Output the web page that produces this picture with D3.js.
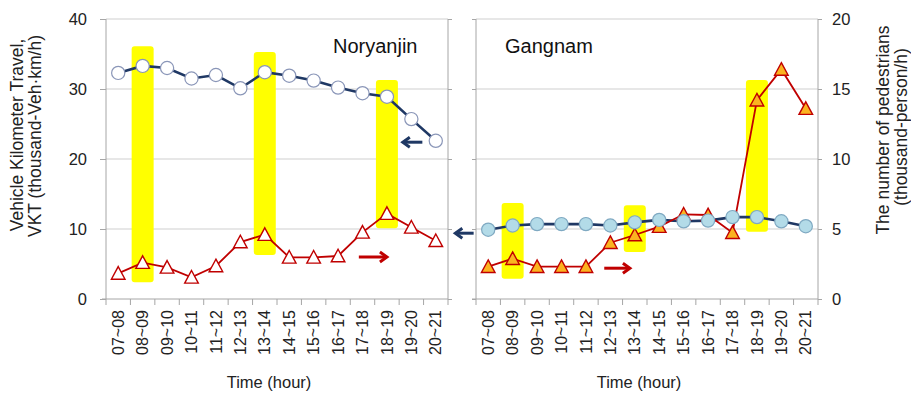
<!DOCTYPE html>
<html>
<head>
<meta charset="utf-8">
<script src="https://cdn.jsdelivr.net/npm/d3@7/dist/d3.min.js"></script>
<style>
  html, body { margin: 0; padding: 0; background: #ffffff; }
  svg { display: block; font-family: "Liberation Sans", Arial, sans-serif; }
</style>
</head>
<body>
<svg id="chart" width="911" height="393"></svg>
<script>
// Hourly periods shared by both districts
const categories = ["07~08", "08~09", "09~10", "10~11", "11~12", "12~13", "13~14",
                    "14~15", "15~16", "16~17", "17~18", "18~19", "19~20", "20~21"];

// Noryanjin: vehicle kilometers travelled (thousand-Veh·km/h) and pedestrians (thousand-person/h)
const noryanjinVKT = [32.3, 33.3, 33.0, 31.5, 32.0, 30.1, 32.4, 31.9, 31.2, 30.2, 29.4, 28.9, 25.7, 22.6];
const noryanjinPed = [1.83, 2.6, 2.26, 1.55, 2.36, 4.07, 4.6, 2.98, 2.98, 3.07, 4.76, 6.1, 5.12, 4.16];

// Gangnam: vehicle kilometers travelled and pedestrians
const gangnamVKT = [9.9, 10.5, 10.7, 10.7, 10.7, 10.5, 10.95, 11.3, 11.1, 11.2, 11.7, 11.7, 11.1, 10.4];
const gangnamPed = [2.31, 2.88, 2.31, 2.31, 2.31, 4.02, 4.57, 5.17, 6.05, 6.0, 4.74, 14.2, 16.4, 13.6];

// Highlighted peak periods (extent given in VKT units)
const noryanjinPeaks = [
  { cat: "08~09", lo: 2.4, hi: 36.1 },
  { cat: "13~14", lo: 6.3, hi: 35.3 },
  { cat: "18~19", lo: 10.1, hi: 31.3 }
];
const gangnamPeaks = [
  { cat: "08~09", lo: 2.9, hi: 13.7 },
  { cat: "13~14", lo: 6.7, hi: 13.4 },
  { cat: "18~19", lo: 9.6, hi: 31.3 }
];

// Axis ticks
const vktTicks = [0, 10, 20, 30, 40];
const pedTicks = [0, 5, 10, 15, 20];

const svg = d3.select("#chart");
const plotTop = 19, plotBottom = 299;

const yVKT = d3.scaleLinear().domain([0, 40]).range([plotBottom, plotTop]);
const yPed = d3.scaleLinear().domain([0, 20]).range([plotBottom, plotTop]);

const navy = "#1f3864";
const red = "#c00000";
const frame = "#a6a6a6";
const grid = "#cfcfcf";

function xAt(x, idx) { return x.range()[0] + idx * x.step(); }

// arrow with its head at xHead, pointing away from xTail
function arrow(g, xHead, xTail, y, color) {
  const dir = xTail > xHead ? 1 : -1;
  g.append("line")
    .attr("x1", xHead + dir).attr("x2", xTail).attr("y1", y).attr("y2", y)
    .attr("stroke", color).attr("stroke-width", 3);
  g.append("path")
    .attr("d", `M${xHead + 7 * dir},${y - 5} L${xHead},${y} L${xHead + 7 * dir},${y + 5}`)
    .attr("fill", "none").attr("stroke", color).attr("stroke-width", 3)
    .attr("stroke-linejoin", "miter");
}

function trianglePath(cx, cy) {
  return `M${cx},${cy - 6.8} L${cx + 6.8},${cy + 5.8} L${cx - 6.8},${cy + 5.8} Z`;
}

function panel(opts) {
  const x = d3.scaleBand().domain(categories).range([opts.x0, opts.x1]).padding(0);
  const g = svg.append("g");

  // gridlines
  g.selectAll("line.grid").data(vktTicks.slice(1)).join("line")
    .attr("class", "grid")
    .attr("x1", opts.x0).attr("x2", opts.x1)
    .attr("y1", d => yVKT(d)).attr("y2", d => yVKT(d))
    .attr("stroke", grid).attr("stroke-width", 1);

  // peak highlights
  g.selectAll("rect.peak").data(opts.peaks).join("rect")
    .attr("class", "peak")
    .attr("x", d => x(d.cat) + x.bandwidth() * 0.05)
    .attr("width", x.bandwidth() * 0.9)
    .attr("y", d => yVKT(d.hi))
    .attr("height", d => yVKT(d.lo) - yVKT(d.hi))
    .attr("rx", 3)
    .attr("fill", "#ffff00");

  // side axes (frame lines with outward ticks)
  const leftAxis = d3.axisLeft(yVKT).tickValues(vktTicks).tickSize(6).tickPadding(13)
    .tickFormat(opts.leftLabels ? d3.format("d") : () => "");
  const rightAxis = d3.axisRight(yPed).tickValues(pedTicks).tickSize(4).tickPadding(10)
    .tickFormat(opts.rightLabels ? d3.format("d") : () => "");

  const la = g.append("g").attr("transform", `translate(${opts.x0},0)`).call(leftAxis);
  const ra = g.append("g").attr("transform", `translate(${opts.x1},0)`).call(rightAxis);
  [la, ra].forEach(a => {
    a.select(".domain").attr("stroke", frame).attr("d", `M0,${plotBottom}V${plotTop}`);
    a.selectAll(".tick line").attr("stroke", frame);
    a.selectAll(".tick text").attr("font-size", 16.5).attr("fill", "#222");
  });
  if (!opts.leftLabels) la.selectAll(".tick line").attr("x2", -4);

  // bottom axis
  const xa = g.append("g").attr("transform", `translate(0,${plotBottom})`)
    .call(d3.axisBottom(x).tickSize(0).tickPadding(0));
  xa.select(".domain").attr("stroke", frame).attr("d", `M${opts.x0 - 4},0H${opts.x1}`);
  xa.selectAll(".tick text")
    .attr("transform", "rotate(-90)")
    .attr("text-anchor", "end")
    .attr("x", -11).attr("y", 0).attr("dy", "0.35em")
    .attr("font-size", 16).attr("fill", "#222");
  xa.selectAll("line.sep").data(d3.range(categories.length + 1)).join("line")
    .attr("class", "sep")
    .attr("x1", i => xAt(x, i)).attr("x2", i => xAt(x, i))
    .attr("y1", 0).attr("y2", 6)
    .attr("stroke", frame);

  g.append("text")
    .attr("x", (opts.x0 + opts.x1) / 2 - 8).attr("y", 388)
    .attr("text-anchor", "middle").attr("font-size", 16.5).attr("fill", "#222")
    .text("Time (hour)");

  // panel title
  g.append("text")
    .attr("x", opts.titleX).attr("y", 53)
    .attr("font-size", 20).attr("fill", "#111")
    .text(opts.title);

  const cx = d => x(d[0]) + x.bandwidth() / 2;
  const vkt = categories.map((c, i) => [c, opts.vkt[i]]);
  const ped = categories.map((c, i) => [c, opts.ped[i]]);

  // VKT line
  g.append("path").datum(vkt)
    .attr("d", d3.line().x(cx).y(d => yVKT(d[1])))
    .attr("fill", "none").attr("stroke", navy).attr("stroke-width", 2.6);

  // pedestrian line and markers
  g.append("path").datum(ped)
    .attr("d", d3.line().x(cx).y(d => yPed(d[1])))
    .attr("fill", "none").attr("stroke", red).attr("stroke-width", 1.8);

  g.selectAll("path.tri").data(ped).join("path")
    .attr("class", "tri")
    .attr("d", d => trianglePath(cx(d), yPed(d[1])))
    .attr("fill", opts.triFill).attr("stroke", red).attr("stroke-width", 1.4);

  // VKT markers
  g.selectAll("circle.pt").data(vkt).join("circle")
    .attr("class", "pt")
    .attr("cx", cx).attr("cy", d => yVKT(d[1])).attr("r", 6.6)
    .attr("fill", opts.circFill).attr("stroke", opts.circStroke).attr("stroke-width", 1.2);

  return { g, x };
}

const nor = panel({
  x0: 106, x1: 448, title: "Noryanjin", titleX: 333,
  vkt: noryanjinVKT, ped: noryanjinPed, peaks: noryanjinPeaks,
  leftLabels: true, rightLabels: false,
  circFill: "#ffffff", circStroke: "#8a96b8", triFill: "#ffffff"
});
const gan = panel({
  x0: 476, x1: 818, title: "Gangnam", titleX: 505,
  vkt: gangnamVKT, ped: gangnamPed, peaks: gangnamPeaks,
  leftLabels: false, rightLabels: true,
  circFill: "#b3dbe8", circStroke: "#7fa9c2", triFill: "#fbb320"
});

// arrows pointing to the axis each series belongs to
arrow(nor.g, xAt(nor.x, 12.15), xAt(nor.x, 12.95), yVKT(22.4), navy);
arrow(nor.g, xAt(nor.x, 11.5), xAt(nor.x, 10.35), yPed(3.0), red);
arrow(nor.g, xAt(nor.x, 14.3), xAt(nor.x, 15.05), yVKT(9.4), navy);
arrow(gan.g, xAt(gan.x, 6.3), xAt(gan.x, 5.25), yPed(2.2), red);

// axis titles
svg.append("text")
  .attr("transform", "translate(23,135) rotate(-90)")
  .attr("text-anchor", "middle").attr("font-size", 17.5).attr("fill", "#222")
  .text("Vehicle Kilometer Travel,");
svg.append("text")
  .attr("transform", "translate(41,136) rotate(-90)")
  .attr("text-anchor", "middle").attr("font-size", 17.5).attr("fill", "#222")
  .text("VKT (thousand-Veh·km/h)");
svg.append("text")
  .attr("transform", "translate(889,130) rotate(-90)")
  .attr("text-anchor", "middle").attr("font-size", 17.5).attr("fill", "#222")
  .text("The number of pedestrians");
svg.append("text")
  .attr("transform", "translate(907,127) rotate(-90)")
  .attr("text-anchor", "middle").attr("font-size", 17.5).attr("fill", "#222")
  .text("(thousand-person/h)");
</script>
</body>
</html>
